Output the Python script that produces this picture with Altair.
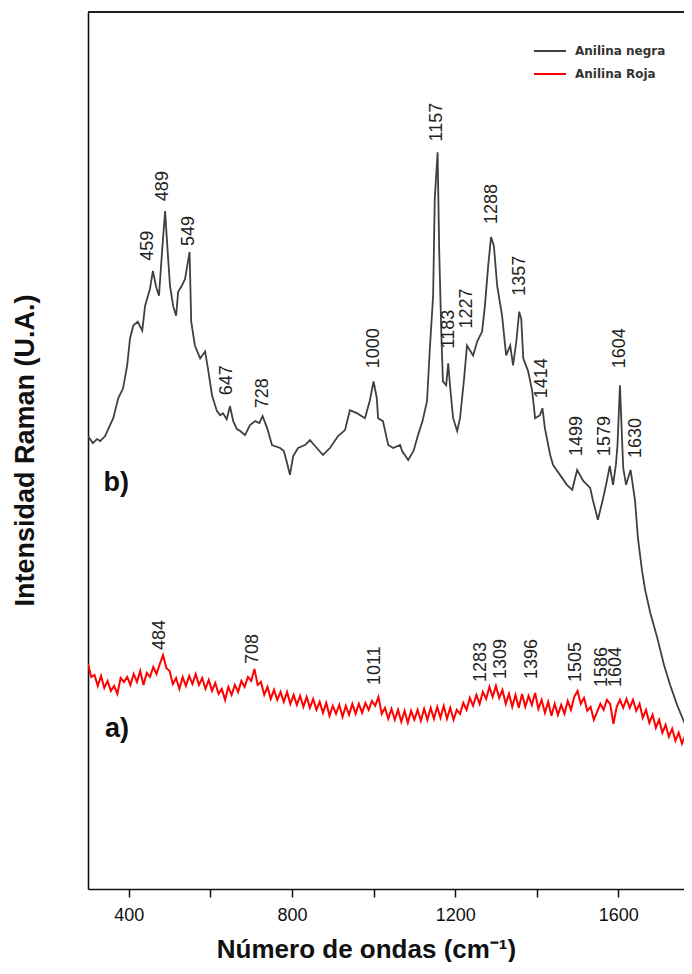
import altair as alt
import pandas as pd

# ---- b) Anilina negra (gray spectrum) ----
gray_wn = [300, 312, 322, 330, 342, 354, 362, 374, 386, 396,
           403, 411, 422, 433, 440, 452, 459, 467, 474, 482,
           489, 493, 496, 501, 509, 516, 521, 530, 538, 549,
           553, 562, 575, 587, 594, 604, 616, 624, 631, 640,
           648, 656, 665, 673, 685, 697, 710, 720, 728, 740,
           751, 771, 780, 788, 795, 803, 815, 832, 844, 861,
           876, 893, 913, 930, 942, 959, 979, 991, 1000, 1008,
           1011, 1023, 1036, 1048, 1065, 1070, 1085, 1098, 1109, 1120,
           1131, 1138, 1146, 1150, 1157, 1161, 1166, 1170, 1178, 1183,
           1188, 1195, 1205, 1212, 1222, 1229, 1244, 1254, 1266, 1273,
           1281, 1288, 1295, 1303, 1315, 1325, 1335, 1342, 1350, 1357,
           1362, 1367, 1379, 1389, 1396, 1408, 1414, 1420, 1433, 1440,
           1457, 1474, 1487, 1499, 1514, 1531, 1538, 1550, 1563, 1572,
           1579, 1587, 1594, 1598, 1604, 1609, 1612, 1619, 1630, 1634,
           1641, 1648, 1658, 1666, 1678, 1695, 1712, 1727, 1744, 1761,
           1781]
gray_int = [455, 448, 452, 450, 455, 466, 473, 493, 503, 526,
            553, 566, 570, 561, 586, 603, 621, 605, 596, 643,
            681, 655, 636, 606, 585, 576, 600, 606, 613, 640,
            570, 546, 533, 540, 523, 496, 480, 476, 478, 472,
            485, 470, 462, 460, 456, 466, 470, 468, 475, 462,
            446, 443, 440, 428, 416, 435, 443, 446, 451, 443,
            436, 443, 455, 461, 481, 478, 473, 491, 510, 493,
            473, 470, 446, 443, 446, 440, 431, 440, 456, 470,
            490, 543, 596, 693, 740, 640, 560, 510, 506, 528,
            503, 473, 460, 473, 513, 546, 536, 550, 560, 586,
            626, 655, 646, 606, 576, 536, 546, 526, 550, 580,
            573, 533, 520, 500, 473, 476, 483, 463, 436, 426,
            416, 406, 401, 421, 410, 403, 390, 371, 393, 410,
            425, 406, 426, 446, 506, 453, 423, 406, 421, 410,
            390, 353, 320, 300, 278, 253, 225, 205, 185, 168,
            150]

# ---- a) Anilina Roja (red spectrum), sampled every 8 cm-1 from 300 to 1780 ----
red_wn = list(range(300, 1781, 8))
red_int = [226, 213, 215, 204, 214, 202, 209, 199, 204, 196,
           212, 208, 213, 205, 216, 208, 219, 205, 217, 213,
           223, 216, 226, 235, 222, 219, 206, 212, 201, 213,
           204, 214, 206, 216, 205, 212, 201, 210, 199, 207,
           196, 201, 190, 203, 195, 205, 198, 209, 203, 213,
           209, 221, 205, 208, 195, 203, 191, 200, 190, 198,
           188, 198, 186, 195, 185, 194, 183, 193, 182, 191,
           180, 188, 177, 187, 174, 184, 176, 185, 173, 184,
           175, 186, 176, 186, 177, 187, 180, 189, 184, 193,
           176, 182, 171, 181, 170, 180, 168, 179, 167, 179,
           170, 180, 169, 181, 170, 182, 171, 183, 172, 184,
           171, 182, 170, 180, 176, 187, 180, 192, 184, 195,
           186, 198, 191, 203, 193, 204, 192, 200, 186, 196,
           183, 195, 182, 196, 183, 194, 185, 197, 181, 190,
           177, 188, 174, 186, 175, 185, 176, 189, 180, 193,
           199, 186, 192, 179, 183, 170, 178, 186, 180, 190,
           186, 166, 183, 190, 182, 191, 182, 190, 179, 186,
           172, 180, 167, 175, 162, 170, 157, 165, 153, 161,
           149, 157, 146, 154, 144, 152]
assert len(red_wn) == len(red_int) and len(gray_wn) == len(gray_int)

series_names = ["Anilina negra", "Anilina Roja"]
series_colors = ["#404040", "#ff0000"]

# ---- peak annotations (label text, position of label foot) ----
b_labels = ["459", "489", "549", "647", "728", "1000", "1157", "1183", "1227",
            "1288", "1357", "1414", "1499", "1579", "1604", "1630"]
b_label_x = [446, 485, 547, 641, 729, 1001, 1156, 1185, 1229,
             1290, 1359, 1413, 1499, 1567, 1604, 1643]
b_label_y = [631, 691, 646, 496, 483, 523, 751, 543, 563,
             668, 596, 493, 435, 435, 523, 433]

a_labels = ["484", "708", "1011", "1283", "1309", "1396", "1505", "1586", "1604"]
a_label_x = [477, 705, 1004, 1263, 1312, 1388, 1496, 1560, 1594]
a_label_y = [240, 226, 205, 208, 211, 211, 208, 203, 203]

panel_tags = ["b)", "a)"]
panel_tag_x = [369, 371]
panel_tag_y = [408, 161]

x_ticks = [400, 600, 800, 1000, 1200, 1400, 1600]

gray_df = pd.DataFrame({"wn": gray_wn, "I": gray_int, "serie": series_names[0]})
red_df = pd.DataFrame({"wn": red_wn, "I": red_int, "serie": series_names[1]})
lab_df = pd.DataFrame({
    "txt": b_labels + a_labels,
    "x": b_label_x + a_label_x,
    "y": b_label_y + a_label_y,
})
tag_df = pd.DataFrame({"txt": panel_tags, "x": panel_tag_x, "y": panel_tag_y})

W, H = 596, 877
xscale = alt.Scale(domain=[300, 1761], nice=False, zero=False)
yscale = alt.Scale(domain=[0, 881], nice=False, zero=False)

x_enc = alt.X("wn:Q", scale=xscale,
              axis=alt.Axis(values=x_ticks, format="d",
                            labelExpr="datum.value % 400 == 0 ? datum.label : ''",
                            title="Número de ondas (cm⁻¹)",
                            titleX=278, titleY=68, titleBaseline="alphabetic",
                            titleAnchor="start", titleAlign="center"))
y_enc = alt.Y("I:Q", scale=yscale,
              axis=alt.Axis(title="Intensidad Raman (U.A.)", labels=False, ticks=False,
                            titleX=-55, titleY=438, titleBaseline="alphabetic",
                            titleAngle=270, titleAlign="center"))

color_enc = alt.Color("serie:N",
                      scale=alt.Scale(domain=series_names, range=series_colors),
                      legend=alt.Legend(title=None, orient="none", legendX=445, legendY=22,
                                        symbolType="stroke", symbolSize=1024,
                                        symbolStrokeWidth=2, labelFont="DejaVu Sans",
                                        labelFontSize=12, labelFontWeight="bold",
                                        labelColor="#333", rowPadding=-5, labelOffset=8,
                                        padding=0))

gray_line = alt.Chart(gray_df).mark_line(strokeWidth=1.8, clip=True).encode(
    x=x_enc, y=y_enc, color=color_enc)
red_line = alt.Chart(red_df).mark_line(strokeWidth=2, clip=True).encode(
    x=alt.X("wn:Q", scale=xscale), y=alt.Y("I:Q", scale=yscale), color=color_enc)

labels = alt.Chart(lab_df).mark_text(angle=270, align="left", baseline="middle",
                                     fontSize=18, font="Liberation Sans", color="#222").encode(
    x=alt.X("x:Q", scale=xscale), y=alt.Y("y:Q", scale=yscale), text="txt:N")

tags = alt.Chart(tag_df).mark_text(align="center", baseline="middle", fontSize=27,
                                   fontWeight="bold", font="Liberation Sans", color="#111").encode(
    x=alt.X("x:Q", scale=xscale), y=alt.Y("y:Q", scale=yscale), text="txt:N")

top_border = alt.Chart(tag_df).mark_rule(color="#111", strokeWidth=1.5).encode(
    y=alt.value(0))

chart = alt.layer(gray_line, red_line, labels, tags, top_border).properties(
    width=W, height=H,
    autosize=alt.AutoSizeParams(type="none"),
    padding={"left": 80, "top": 4, "right": 0, "bottom": 73},
).configure_view(stroke=None).configure_axis(
    grid=False, domainColor="#111", domainWidth=1.6, tickColor="#111", tickWidth=1.5,
    tickSize=8, labelFont="Liberation Sans", labelFontSize=18, labelColor="#111",
    labelPadding=9, titleFont="Liberation Sans", titleFontWeight="bold",
    titleColor="#111",
).configure_axisX(titleFontSize=26).configure_axisY(titleFontSize=27)

chart.save("out.html", embed_options={"renderer": "svg", "actions": False})
